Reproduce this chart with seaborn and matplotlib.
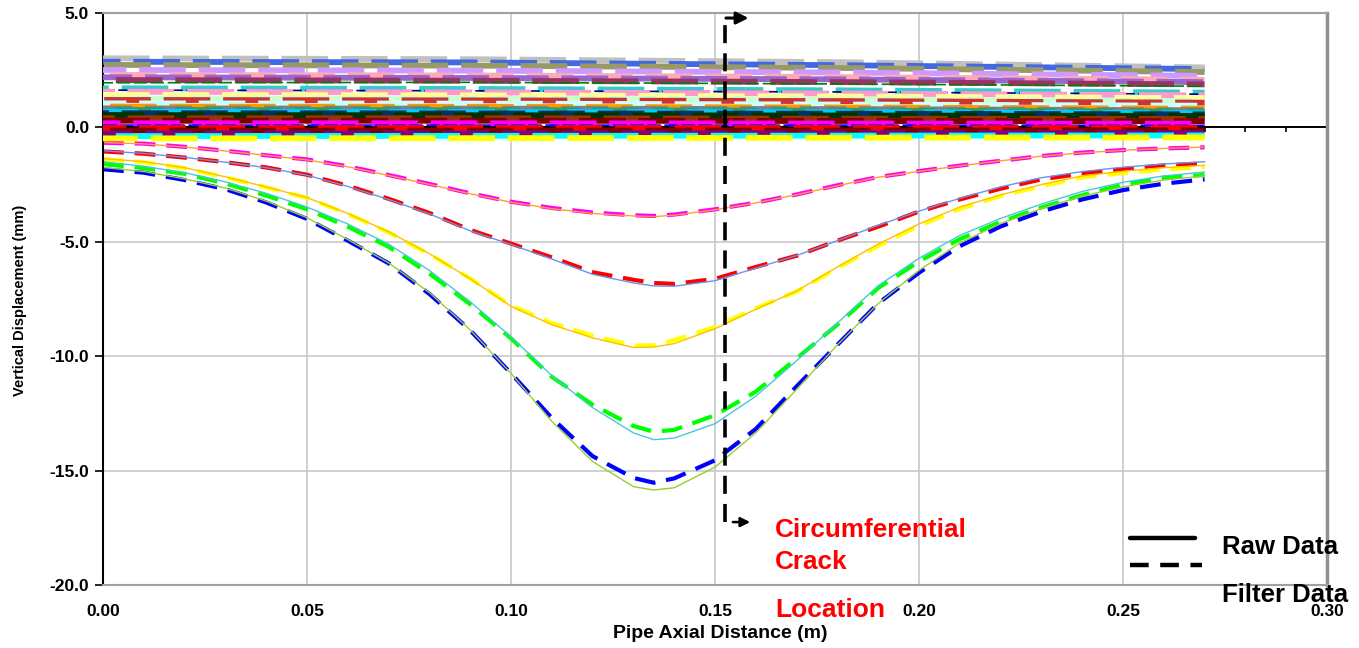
import numpy as np
import pandas as pd
import matplotlib
matplotlib.use("Agg")
import matplotlib.pyplot as plt
import seaborn as sns
from matplotlib.lines import Line2D

# axial positions (m) where the settled-profile curves were read
x_pos = [0.00, 0.01, 0.02, 0.03, 0.04, 0.05, 0.06, 0.07, 0.08, 0.09,
         0.10, 0.11, 0.12, 0.13, 0.135, 0.14, 0.15, 0.16, 0.17, 0.18, 0.19,
         0.20, 0.21, 0.22, 0.23, 0.24, 0.25, 0.26, 0.27]

# filtered profiles (dashed)
filt_1 = [-0.67, -0.71, -0.85, -1.02, -1.22, -1.40, -1.70, -2.08, -2.47, -2.88,
          -3.25, -3.52, -3.72, -3.84, -3.87, -3.81, -3.58, -3.29, -2.93, -2.53, -2.17,
          -1.91, -1.67, -1.46, -1.25, -1.10, -0.99, -0.92, -0.87]
filt_2 = [-1.05, -1.15, -1.32, -1.52, -1.75, -2.07, -2.55, -3.12, -3.74, -4.48,
          -5.08, -5.68, -6.33, -6.66, -6.80, -6.84, -6.62, -6.10, -5.61, -4.95, -4.34,
          -3.68, -3.15, -2.68, -2.27, -2.02, -1.82, -1.66, -1.57]
filt_3 = [-1.39, -1.52, -1.78, -2.18, -2.62, -3.08, -3.78, -4.59, -5.54, -6.60,
          -7.78, -8.55, -9.10, -9.54, -9.52, -9.30, -8.72, -7.90, -7.18, -6.15, -5.18,
          -4.30, -3.56, -3.00, -2.57, -2.18, -2.00, -1.83, -1.74]
filt_4 = [-1.60, -1.78, -2.03, -2.45, -2.98, -3.58, -4.34, -5.22, -6.39, -7.73,
          -9.22, -10.90, -12.12, -13.05, -13.30, -13.22, -12.58, -11.55, -10.10, -8.62, -7.02,
          -5.86, -4.88, -4.13, -3.50, -2.96, -2.50, -2.20, -2.08]
filt_5 = [-1.83, -1.98, -2.30, -2.70, -3.28, -4.00, -4.95, -5.94, -7.28, -8.87,
          -10.75, -12.70, -14.37, -15.32, -15.53, -15.34, -14.55, -13.18, -11.32, -9.50, -7.69,
          -6.35, -5.19, -4.33, -3.68, -3.15, -2.74, -2.46, -2.27]

# raw profiles (thin solid)
raw_1 = [-0.66, -0.72, -0.86, -1.03, -1.22, -1.42, -1.72, -2.10, -2.49, -2.90,
         -3.27, -3.55, -3.76, -3.87, -3.90, -3.84, -3.60, -3.30, -2.94, -2.55, -2.18,
         -1.92, -1.68, -1.46, -1.26, -1.11, -1.00, -0.92, -0.86]
raw_2 = [-1.02, -1.14, -1.31, -1.52, -1.76, -2.09, -2.58, -3.15, -3.78, -4.52,
         -5.12, -5.75, -6.42, -6.80, -6.93, -6.94, -6.70, -6.15, -5.60, -4.95, -4.28,
         -3.66, -3.10, -2.60, -2.20, -1.93, -1.74, -1.60, -1.50]
raw_3 = [-1.36, -1.50, -1.76, -2.16, -2.60, -3.07, -3.76, -4.56, -5.52, -6.62,
         -7.82, -8.62, -9.20, -9.62, -9.60, -9.45, -8.80, -7.95, -7.15, -6.10, -5.10,
         -4.22, -3.48, -2.95, -2.50, -2.12, -1.92, -1.76, -1.66]
raw_4 = [-1.50, -1.70, -1.98, -2.38, -2.88, -3.48, -4.22, -5.10, -6.25, -7.62,
         -9.15, -10.85, -12.25, -13.35, -13.65, -13.58, -12.95, -11.75, -10.20, -8.55, -6.92,
         -5.72, -4.72, -3.98, -3.35, -2.80, -2.40, -2.12, -1.95]
raw_5 = [-1.75, -1.93, -2.25, -2.65, -3.22, -3.95, -4.90, -5.92, -7.22, -8.85,
         -10.75, -12.85, -14.60, -15.70, -15.85, -15.75, -14.85, -13.35, -11.45, -9.50, -7.70,
         -6.25, -5.05, -4.20, -3.55, -3.00, -2.60, -2.30, -2.12]

filt_colors = ["#FF00FF", "#FF0000", "#FFFF00", "#00FF00", "#0000FF"]
raw_colors = ["#FFA030", "#6495ED", "#FFC000", "#48C8D8", "#9ACD32"]

# unloaded / early-stage records: the noisy band near zero
band_x = [0.00, 0.09, 0.18, 0.27]
band_start = [3.02, 2.87, 2.73, 2.51, 2.29, 2.19, 2.07, 1.95, 1.71, 1.63, 1.56, 1.42, 1.27, 1.20, 1.05,
              0.91, 0.83, 0.76, 0.68, 0.62, 0.54, 0.40, 0.29, 0.18, 0.10, -0.04, -0.14, -0.26, -0.38, -0.48]
band_mid1 = [2.98, 2.84, 2.70, 2.48, 2.27, 2.16, 2.04, 1.97, 1.68, 1.60, 1.53, 1.40, 1.25, 1.18, 1.04,
             0.90, 0.82, 0.75, 0.67, 0.61, 0.53, 0.40, 0.29, 0.18, 0.10, -0.04, -0.14, -0.26, -0.37, -0.47]
band_mid2 = [2.85, 2.72, 2.60, 2.40, 2.20, 2.10, 1.98, 1.90, 1.62, 1.55, 1.48, 1.35, 1.22, 1.15, 1.00,
             0.87, 0.80, 0.73, 0.66, 0.60, 0.52, 0.38, 0.28, 0.17, 0.10, -0.04, -0.14, -0.25, -0.36, -0.45]
band_end = [2.62, 2.55, 2.42, 2.25, 2.08, 1.98, 1.88, 1.80, 1.52, 1.45, 1.40, 1.28, 1.15, 1.08, 0.95,
            0.82, 0.75, 0.70, 0.62, 0.57, 0.50, 0.37, 0.27, 0.16, 0.09, -0.04, -0.13, -0.24, -0.35, -0.44]
band_colors = ["#C0C0C0", "#4169E1", "#999966", "#CC99FF", "#FFA8B8", "#9966CC", "#993366", "#008000",
               "#33CCCC", "#000080", "#FF99CC", "#FFFF99", "#CCFFCC", "#CC3333", "#CCFFFF", "#FF9900",
               "#808080", "#339966", "#00CCFF", "#003366", "#003300", "#993300", "#800000", "#FF00FF",
               "#0000FF", "#FF0000", "#800000", "#800080", "#00FFFF", "#FFFF00"]
thin_band = {7, 9, 24}

crack_x = 0.1525
x_ticks = [0.00, 0.05, 0.10, 0.15, 0.20, 0.25, 0.30]
y_ticks = [-20.0, -15.0, -10.0, -5.0, 0.0, 5.0]

sns.set_style("white")
plt.rcParams["font.family"] = ["Liberation Sans", "DejaVu Sans"]
plt.rcParams["axes.unicode_minus"] = False
plt.rcParams["text.color"] = "black"
plt.rcParams["xtick.color"] = "black"
plt.rcParams["ytick.color"] = "black"

W, H = 1359, 648
fig = plt.figure(figsize=(W / 100, H / 100), dpi=100)
ax = fig.add_axes([103 / W, 1 - 585 / H, (1327 - 103) / W, (585 - 13) / H])

# grid
for xv in x_ticks[1:-1]:
    ax.axvline(xv, color="#C8C8C8", lw=1.2, zorder=0)
for yv in y_ticks[1:-1]:
    ax.axhline(yv, color="#C8C8C8", lw=1.2, zorder=0)

# x axis crossing at zero with small ticks
ax.axhline(0, color="black", lw=1.4, zorder=1)
ax.vlines(np.arange(0.01, 0.305, 0.01), -0.2, 0, color="black", lw=1.2, zorder=1)

# dashed filtered curves, raw curves on top
for i, (f, r) in enumerate(zip([filt_1, filt_2, filt_3, filt_4, filt_5],
                                [raw_1, raw_2, raw_3, raw_4, raw_5])):
    sns.lineplot(x=x_pos, y=f, color=filt_colors[i], lw=3.0,
                 linestyle=(0, (5, 2.6)), ax=ax, zorder=2)
    sns.lineplot(x=x_pos, y=r, color=raw_colors[i], lw=1.0, ax=ax, zorder=2.5)

# noisy band
for i, c in enumerate(band_colors):
    yy = [band_start[i], band_mid1[i], band_mid2[i], band_end[i]]
    lw = 1.2 if i in thin_band else 4.2
    sns.lineplot(x=band_x, y=yy, color=c, lw=lw,
                 linestyle=((i * 5) % 11, (8, 2.2)), ax=ax, zorder=3)

# crack location marker
ax.plot([crack_x, crack_x], [-17.25, 4.78], color="black", lw=2.6,
        linestyle=(0, (5, 2.8)), zorder=4)
ax.annotate("", xy=(crack_x + 0.0064, 4.78), xytext=(crack_x - 0.0005, 4.78),
            arrowprops=dict(arrowstyle="-|>", color="black", lw=2.2, mutation_scale=18),
            zorder=4)
ax.annotate("", xy=(crack_x + 0.0068, -17.25), xytext=(crack_x + 0.0012, -17.25),
            arrowprops=dict(arrowstyle="-|>", color="black", lw=1.8, mutation_scale=14),
            zorder=4)

ax.set_xlim(0, 0.30)
ax.set_ylim(-20, 5)
ax.set_xticks(x_ticks)
ax.set_xticklabels([f"{v:.2f}" for v in x_ticks], fontsize=12.5, fontweight="bold", color="black")
ax.set_yticks(y_ticks)
ax.set_yticklabels([f"{v:.1f}" for v in y_ticks], fontsize=12.5, fontweight="bold", color="black")
ax.tick_params(axis="x", length=0, pad=14)
ax.tick_params(axis="y", direction="out", length=6, width=1.2, color="black", pad=4, left=True)
ax.set_xlabel("")
ax.set_ylabel("")

for side in ["top", "bottom"]:
    ax.spines[side].set_color("#A0A0A0")
    ax.spines[side].set_linewidth(1.5)
ax.spines["right"].set_color("#909090")
ax.spines["right"].set_linewidth(2.5)
ax.spines["left"].set_color("black")
ax.spines["left"].set_linewidth(1.5)

def fx(px):
    return px / W

def fy(py):
    return 1 - py / H

fig.text(fx(20), fy(300), "Vertical Displacement (mm)", rotation=90, ha="center",
         va="center", fontsize=10.5, fontweight="bold", color="black")
fig.text(fx(720), fy(634), "Pipe Axial Distance (m)", ha="center", va="center",
         fontsize=14, fontweight="bold", color="black")

fig.text(fx(775), fy(530), "Circumferential", color="red", fontsize=18.8,
         fontweight="bold", va="center", ha="left")
fig.text(fx(775), fy(562), "Crack", color="red", fontsize=18.8,
         fontweight="bold", va="center", ha="left")
fig.text(fx(775), fy(610), "Location", color="red", fontsize=19,
         fontweight="bold", va="center", ha="left")

# legend drawn by hand, as in the original
fig.add_artist(Line2D([fx(1130), fx(1195)], [fy(538), fy(538)], color="black", lw=3.2,
                      transform=fig.transFigure))
fig.add_artist(Line2D([fx(1130), fx(1202)], [fy(565), fy(565)], color="black", lw=3.2,
                      linestyle=(0, (4.2, 2.6)), transform=fig.transFigure))
fig.text(fx(1222), fy(547), "Raw Data", fontsize=18.5, fontweight="bold", va="center",
         ha="left", color="black")
fig.text(fx(1222), fy(595), "Filter Data", fontsize=18.5, fontweight="bold", va="center",
         ha="left", color="black")

fig.savefig("out.png", dpi=100)
